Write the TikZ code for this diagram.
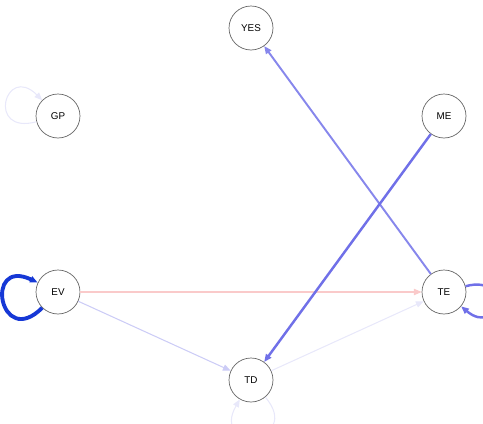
\documentclass[tikz,border=0pt]{standalone}
\usepackage{fontspec}
\setmainfont{Liberation Sans}
\usetikzlibrary{arrows.meta}
\definecolor{loopblue}{RGB}{22,56,214}
\definecolor{midblue}{RGB}{112,112,232}
\definecolor{softblue}{RGB}{135,135,236}
\definecolor{paleblue}{RGB}{204,204,246}
\definecolor{faintblue}{RGB}{232,232,250}
\definecolor{palered}{RGB}{250,202,202}
\tikzset{
  StateStyle/.style = { circle, draw = gray!80!black, line width = 0.4pt,
                       minimum size = 0.88cm, inner sep = 0pt,
                       font = \fontsize{5.6}{6.5}\selectfont },
  LinkStyle/.style = { -{Triangle[length=4.4pt,width=3.6pt]}, line width = 0.6pt } }
\begin{document}
\begin{tikzpicture}[x=0.02cm,y=-0.02cm]
  \useasboundingbox (0,0) rectangle (483,423);
  \node[StateStyle] (yes) at (251,28) {YES};
  \node[StateStyle] (gp) at (58,116) {GP};
  \node[StateStyle] (me) at (444,116) {ME};
  \node[StateStyle] (ev) at (58,292) {EV};
  \node[StateStyle] (te) at (444,292) {TE};
  \node[StateStyle] (td) at (251,380) {TD};

  % faint links
  \draw[LinkStyle, faintblue] (gp) to[out=195,in=135,min distance=0.45cm,looseness=6] (gp);
  \draw[LinkStyle, faintblue] (td) to[out=-50,in=-120,min distance=0.42cm,looseness=6] (td);
  \draw[LinkStyle, faintblue] (td) -- (te);
  \draw[LinkStyle, paleblue] (ev) -- (td);
  \draw[LinkStyle, palered] (ev) -- (te);

  % strong links
  \draw[LinkStyle, softblue, line width = 1.1pt] (te) -- (yes);
  \draw[LinkStyle, midblue, line width = 1.4pt] (me) -- (td);
  \draw[LinkStyle, midblue, line width = 1.4pt] (te) to[out=15,in=-40,min distance=0.5cm,looseness=6] (te);
  \draw[LinkStyle, loopblue, line width = 2.2pt] (ev) to[out=225,in=155,min distance=0.42cm,looseness=6] (ev);
\end{tikzpicture}
\end{document}
